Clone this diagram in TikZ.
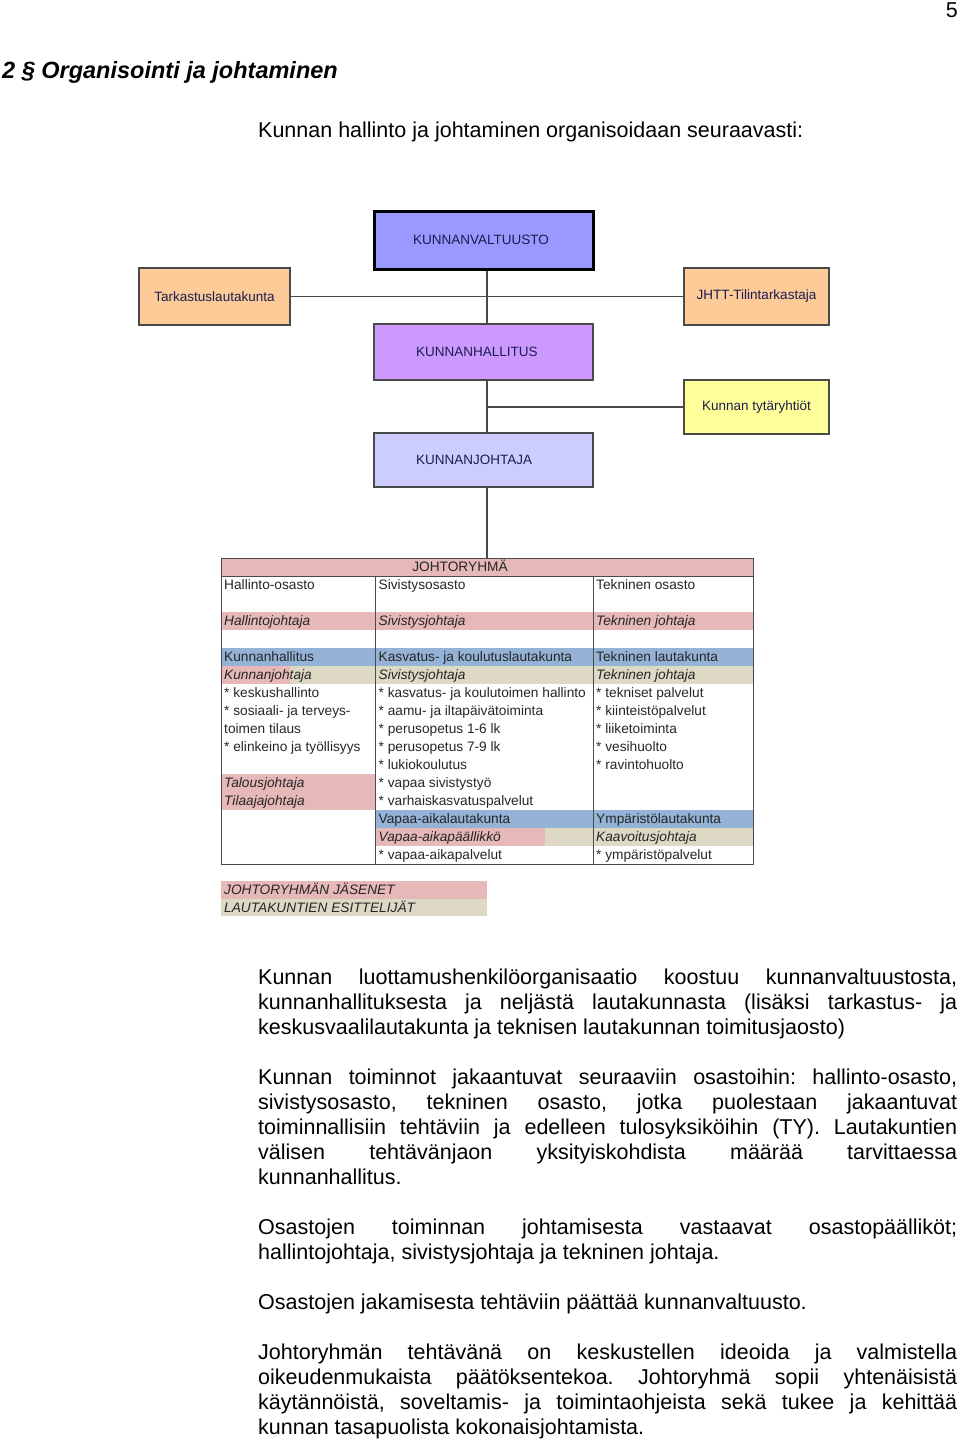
\documentclass[tikz,border=0pt]{standalone}
\usepackage{fontspec}
\setmainfont{Liberation Sans}
\definecolor{cvalt}{HTML}{9999FF}
\definecolor{chall}{HTML}{CC99FF}
\definecolor{cjoht}{HTML}{CCCCFF}
\definecolor{corange}{HTML}{FCCB98}
\definecolor{cyellow}{HTML}{FFFF99}
\definecolor{cpink}{HTML}{E6B9B8}
\definecolor{cblue}{HTML}{95B3D7}
\definecolor{cbeige}{HTML}{DDD9C4}
\definecolor{navytext}{HTML}{1C1C50}
\definecolor{celltext}{HTML}{262626}
\definecolor{linegray}{HTML}{4A4A4A}
\frenchspacing
\begin{document}
\begin{tikzpicture}[x=1pt,y=-1pt,
  orgbox/.style={draw=linegray, line width=1.4pt, inner ysep=0pt, text=navytext,
    font=\fontsize{13.5}{16}\selectfont},
  mainbox/.style={orgbox, align=left, text width=135pt, inner xsep=42pt},
  sidebox/.style={orgbox, inner xsep=0pt},
  conn/.style={draw=linegray, line width=1.4pt},
  grid/.style={draw=linegray, line width=0.9pt},
  cell/.style={anchor=base west, inner sep=0pt, text=celltext,
    font=\fontsize{13.7}{16}\selectfont},
  celli/.style={cell, font=\fontsize{13.7}{16}\selectfont\itshape},
  para/.style={anchor=base west, inner sep=0pt, font=\fontsize{21.5}{25}\selectfont\frenchspacing}]
\useasboundingbox (0,0) rectangle (960,1442);

% page header
\node[anchor=base east, inner sep=0pt, font=\fontsize{21.5}{25}\selectfont] (pageno) at (958,18) {5};
\node[anchor=base west, inner sep=0pt, font=\fontsize{23.5}{28}\selectfont\bfseries\itshape] (head) at (2,79) {2 § Organisointi ja johtaminen};
\node[para] (intro) at (258,138) {Kunnan hallinto ja johtaminen organisoidaan seuraavasti:};

% org chart boxes
\node[orgbox, draw=black, line width=3pt, fill=cvalt, align=left, text width=141pt, inner xsep=39pt, minimum height=58pt] (valt) at (483.5,240) {KUNNANVALTUUSTO};
\node[mainbox, fill=chall, minimum height=56pt] (hall) at (483.5,352) {KUNNANHALLITUS};
\node[mainbox, fill=cjoht, minimum height=54pt] (joht) at (483.5,460) {KUNNANJOHTAJA};
\node[sidebox, fill=corange, minimum width=151pt, minimum height=57pt] (tark) at (214.5,296.5) {Tarkastuslautakunta};
\node[sidebox, fill=corange, minimum width=145pt, minimum height=57pt] (jhtt) at (756.5,296.5) {JHTT-Tilintarkastaja};
\node[sidebox, fill=cyellow, minimum width=145pt, minimum height=54pt] (tytar) at (756.5,407) {Kunnan tytäryhtiöt};

% table fills
\fill[cpink] (221,558) rectangle (753,576);
\fill[cpink] (221,612) rectangle (753,630);
\fill[cblue] (221,648) rectangle (753,666);
\fill[cpink] (221,666) rectangle (290,684);
\fill[cbeige] (290,666) rectangle (753,684);
\fill[cpink] (221,774) rectangle (375,810);
\fill[cblue] (375,810) rectangle (753,828);
\fill[cpink] (375,828) rectangle (545,846);
\fill[cbeige] (545,828) rectangle (753,846);

% table frame
\node[grid, draw, minimum width=532pt, minimum height=306pt, inner sep=0pt] (tbl) at (487,711) {};
\draw[grid] (221,576) -- (753,576);
\draw[grid] (375,576) -- (375,864);
\draw[grid] (593,576) -- (593,864);

% connectors
\coordinate (spine) at (487,0);
\draw[conn] (valt.south -| spine) -- (hall.north -| spine);
\draw[conn] (hall.south -| spine) -- (joht.north -| spine);
\draw[conn] (joht.south -| spine) -- (tbl.north -| spine);
\draw[conn] (tark.east) -- (jhtt.west);
\draw[conn] (tytar.west) -- (tytar.west -| spine);

% table texts
\node[cell, anchor=base] (jr) at (460,571.5) {JOHTORYHMÄ};
% column 1
\node[cell] (a1) at (224,589.5) {Hallinto-osasto};
\node[celli] (a3) at (224,625.5) {Hallintojohtaja};
\node[cell] (a5) at (224,661.5) {Kunnanhallitus};
\node[celli] (a6) at (224,679.5) {Kunnanjohtaja};
\node[cell] (a7) at (224,697.5) {* keskushallinto};
\node[cell] (a8) at (224,715.5) {* sosiaali- ja terveys-};
\node[cell] (a9) at (224,733.5) {toimen tilaus};
\node[cell] (a10) at (224,751.5) {* elinkeino ja työllisyys};
\node[celli] (a12) at (224,787.5) {Talousjohtaja};
\node[celli] (a13) at (224,805.5) {Tilaajajohtaja};
% column 2
\node[cell] (b1) at (378.5,589.5) {Sivistysosasto};
\node[celli] (b3) at (378.5,625.5) {Sivistysjohtaja};
\node[cell] (b5) at (378.5,661.5) {Kasvatus- ja koulutuslautakunta};
\node[celli] (b6) at (378.5,679.5) {Sivistysjohtaja};
\node[cell] (b7) at (378.5,697.5) {* kasvatus- ja koulutoimen hallinto};
\node[cell] (b8) at (378.5,715.5) {* aamu- ja iltapäivätoiminta};
\node[cell] (b9) at (378.5,733.5) {* perusopetus 1-6 lk};
\node[cell] (b10) at (378.5,751.5) {* perusopetus 7-9 lk};
\node[cell] (b11) at (378.5,769.5) {* lukiokoulutus};
\node[cell] (b12) at (378.5,787.5) {* vapaa sivistystyö};
\node[cell] (b13) at (378.5,805.5) {* varhaiskasvatuspalvelut};
\node[cell] (b14) at (378.5,823.5) {Vapaa-aikalautakunta};
\node[celli] (b15) at (378.5,841.5) {Vapaa-aikapäällikkö};
\node[cell] (b16) at (378.5,859.5) {* vapaa-aikapalvelut};
% column 3
\node[cell] (c1) at (596,589.5) {Tekninen osasto};
\node[celli] (c3) at (596,625.5) {Tekninen johtaja};
\node[cell] (c5) at (596,661.5) {Tekninen lautakunta};
\node[celli] (c6) at (596,679.5) {Tekninen johtaja};
\node[cell] (c7) at (596,697.5) {* tekniset palvelut};
\node[cell] (c8) at (596,715.5) {* kiinteistöpalvelut};
\node[cell] (c9) at (596,733.5) {* liiketoiminta};
\node[cell] (c10) at (596,751.5) {* vesihuolto};
\node[cell] (c11) at (596,769.5) {* ravintohuolto};
\node[cell] (c14) at (596,823.5) {Ympäristölautakunta};
\node[celli] (c15) at (596,841.5) {Kaavoitusjohtaja};
\node[cell] (c16) at (596,859.5) {* ympäristöpalvelut};

% legend
\fill[cpink] (221,881) rectangle (487,899);
\fill[cbeige] (221,899) rectangle (487,916);
\node[celli] (leg1) at (224,894.5) {JOHTORYHMÄN JÄSENET};
\node[celli] (leg2) at (224,912) {LAUTAKUNTIEN ESITTELIJÄT};

% paragraphs
\node[para] (p1) at (258,984) {\parbox[t]{699pt}{\tolerance=10000
Kunnan luottamushenkilöorganisaatio koostuu kunnanvaltuustosta,\linebreak
kunnanhallituksesta ja neljästä lautakunnasta (lisäksi tarkastus- ja\linebreak
keskusvaalilautakunta ja teknisen lautakunnan toimitusjaosto)}};
\node[para] (p2) at (258,1084) {\parbox[t]{699pt}{\tolerance=10000
Kunnan toiminnot jakaantuvat seuraaviin osastoihin: hallinto-osasto,\linebreak
sivistysosasto, tekninen osasto, jotka puolestaan jakaantuvat\linebreak
toiminnallisiin tehtäviin ja edelleen tulosyksiköihin (TY). Lautakuntien\linebreak
välisen tehtävänjaon yksityiskohdista määrää tarvittaessa\linebreak
kunnanhallitus.}};
\node[para] (p3) at (258,1234) {\parbox[t]{699pt}{\tolerance=10000
Osastojen toiminnan johtamisesta vastaavat osastopäälliköt;\linebreak
hallintojohtaja, sivistysjohtaja ja tekninen johtaja.}};
\node[para] (p4) at (258,1309) {Osastojen jakamisesta tehtäviin päättää kunnanvaltuusto.};
\node[para] (p5) at (258,1359) {\parbox[t]{699pt}{\tolerance=10000
Johtoryhmän tehtävänä on keskustellen ideoida ja valmistella\linebreak
oikeudenmukaista päätöksentekoa. Johtoryhmä sopii yhtenäisistä\linebreak
käytännöistä, soveltamis- ja toimintaohjeista sekä tukee ja kehittää\linebreak
kunnan tasapuolista kokonaisjohtamista.}};
\end{tikzpicture}
\end{document}
